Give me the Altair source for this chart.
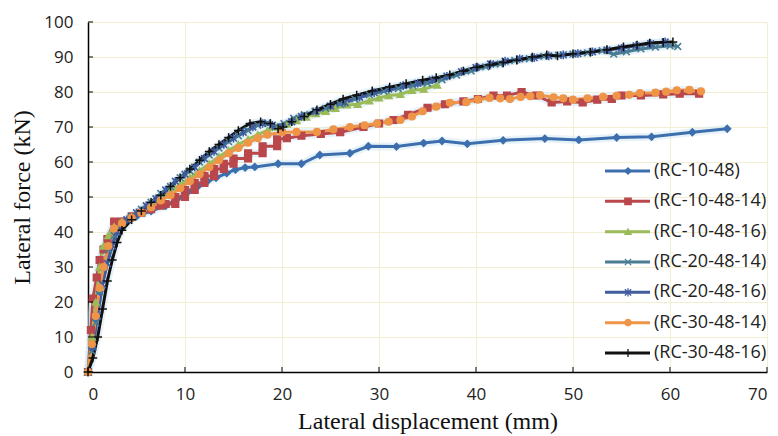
import altair as alt
import pandas as pd

series = ["(RC-10-48)", "(RC-10-48-14)", "(RC-10-48-16)", "(RC-20-48-14)",
          "(RC-20-48-16)", "(RC-30-48-14)", "(RC-30-48-16)"]
colors = ["#3d6fae", "#b9474b", "#9bbb59", "#4a7d93", "#3f5c9f", "#ef9548", "#111111"]
shapes = ["diamond", "square", "triangle-up",
          "M-1,-1L1,1M-1,1L1,-1",
          "M-1,-1L1,1M-1,1L1,-1M0,-1.3L0,1.3",
          "circle",
          "M-1.3,0L1.3,0M0,-1.3L0,1.3"]

x_ticks = [0, 10, 20, 30, 40, 50, 60, 70]
y_ticks = [0, 10, 20, 30, 40, 50, 60, 70, 80, 90, 100]

# (RC-10-48)
x1 = [0, 0.4, 0.8, 1.2, 1.6, 2.1, 2.7, 3.5, 5, 6.5, 8, 9.2, 10.3, 11.3, 12.3, 13.2, 14.3, 15.2,
      16.2, 17.2, 19.6, 22.0, 23.9, 27.0, 28.9, 31.8, 34.6, 36.5, 39.1, 42.8, 47.1, 50.6, 54.5,
      58.1, 62.3, 65.9]
y1 = [0, 7, 15, 23, 30, 36, 41, 43, 44.5, 46, 47.5, 49.5, 51.5, 53, 54.5, 55.5, 56.8, 57.8,
      58.4, 58.6, 59.5, 59.5, 62, 62.5, 64.5, 64.4, 65.4, 66, 65.2, 66.2, 66.7, 66.3, 67,
      67.2, 68.5, 69.5]
# (RC-10-48-14)
x2 = [0, 0.3, 0.5, 0.9, 1.2, 1.6, 2.0, 2.7, 3.5, 4.5, 5.5, 6.5, 7.5, 8, 9, 9, 10, 10, 11, 11, 12,
      12, 13, 13, 14, 14, 15, 15, 16.5, 16.5, 18, 18, 19.5, 19.5, 20.5, 22, 24, 26, 28.4, 30,
      31.5, 33, 35, 36.8, 38.7, 40.2, 41.8, 43.2, 44.7, 46.2, 47.8, 49.4, 51, 52.5, 54, 55, 57,
      59.3, 61, 63]
y2 = [0, 12, 21, 27, 32, 35, 38, 43, 43, 44.5, 45.5, 46.5, 47.5, 48, 48, 50, 50, 52, 52, 54, 54,
      56, 56, 58, 58, 59.5, 59.5, 61, 61, 62.5, 62.5, 64.5, 64.5, 66.5, 66.8, 67.5, 68, 68.5, 70,
      71, 72, 73.5, 75.5, 76.5, 77.3, 78, 79, 79, 80, 79, 77, 77.3, 77, 77.8, 78, 79, 79,
      79.3, 79.5, 79.5]
# (RC-10-48-16)
x3 = [0, 0.4, 0.8, 1.2, 1.6, 2.1, 2.7, 3.5, 4.5, 5.5, 6.5, 7.5, 8.5, 9.5, 10.5, 11.5, 12.5,
      13.5, 14.5, 15.5, 16.5, 17.5, 18.5, 19.5, 20.5, 21.5, 22.5, 23.5, 24.5, 25.5, 26.7, 27.8,
      29, 30, 31, 32.2, 33.4, 34.6, 36]
y3 = [0, 10, 20, 30, 36, 39, 41.5, 43, 44.3, 45.8, 47.5, 49.5, 51.5, 53.5, 55.5, 57.5, 59.5,
      61.5, 63.3, 65, 66.5, 67.8, 69, 70, 70.8, 71.8, 72.8, 73.8, 74.5, 75.3, 76.3, 76.5,
      77.5, 78.3, 79, 79.3, 80.5, 80.8, 82]
# (RC-20-48-14)
x4 = [0, 0.4, 0.8, 1.2, 1.6, 2.1, 2.7, 3.5, 4.5, 5.5, 6.5, 7.5, 8.5, 9.5, 10.5, 11.5, 12.5,
      13.5, 14.5, 15.5, 16.5, 17.5, 18.5, 19.3, 20.2, 21.2, 22.3, 23.4, 24.5, 26, 27.5, 29,
      30.5, 32, 33.5, 35, 36.5, 38, 39.5, 41, 42.5, 44, 45.5, 47, 48.5, 50, 51.5, 53, 54.2,
      55.5, 57, 58.5, 60, 60.8]
y4 = [0, 6, 14, 23, 30, 35, 39, 42.5, 44.5, 46.5, 48.5, 51, 53, 55.5, 57.5, 60, 62, 64, 65.8,
      67.5, 69, 70.5, 71.2, 70, 71, 72.5, 73.5, 74.5, 75.3, 76.5, 78, 79.2, 80.2, 81, 81.8,
      82.5, 83.5, 84.8, 86, 87.2, 88, 89, 89.5, 90.2, 90.5, 90.8, 91.2, 91.8, 90.8, 91.5,
      92.3, 92.8, 93.2, 93]
# (RC-20-48-16)
x5 = [0, 0.5, 1, 1.5, 2, 2.5, 3, 4, 5, 6, 7, 8, 9, 10, 11, 12, 13, 14, 15, 16, 17, 18, 19, 20,
      21, 22, 23.5, 25, 26.5, 28, 29.5, 31, 32.5, 34, 35.5, 37, 38.5, 40, 41.5, 43, 44.5, 46,
      47.5, 49, 50.5, 52, 53.5, 55, 56.5, 58, 59.5]
y5 = [0, 7, 16, 25, 31, 36, 40, 43.5, 45.5, 47.5, 49.5, 52, 54.5, 56.5, 58.5, 61, 63, 65, 66.8,
      68.5, 70, 71, 70.5, 70, 71.5, 73, 74.5, 76, 77, 78.5, 79.8, 80.8, 81.8, 82.5, 83.5, 84.5,
      85.8, 87, 88, 88.8, 89.5, 89.8, 90.3, 90.6, 91, 91.5, 92, 92.5, 93.2, 93.8, 94.3]
# (RC-30-48-14)
x6 = [0, 0.4, 0.8, 1.2, 1.6, 2.1, 2.7, 3.5, 4.5, 5.5, 6.5, 7.5, 8.5, 9.5, 10.5, 11.5, 12.5,
      13.5, 14.5, 15.5, 16.5, 17.5, 18.5, 20, 21.5, 23.6, 25.3, 27, 28.5, 29.8, 31, 32.2, 33.4,
      34.5, 35.9, 37.3, 39, 40.2, 41.4, 42.5, 43.5, 44.6, 45.6, 46.6, 48, 49, 50, 51.5, 53.1,
      54.5, 55.8, 56.9, 58.5, 59.6, 60.7, 62, 63.2]
y6 = [0, 8, 16, 24, 30, 36, 41, 42.5, 44, 45.5, 47, 49, 50.5, 52.5, 54.5, 56.5, 58.5, 60.5,
      62.5, 64, 65.5, 66.8, 67.8, 68.5, 68.6, 68.6, 69.3, 70, 70.5, 71, 71.5, 72, 73, 74.5,
      75.8, 76.9, 77.1, 77.8, 78.3, 78.2, 78, 78.6, 78.8, 79.1, 78.5, 78.2, 77.8, 78.2, 78.6,
      78.9, 79.2, 79.7, 79.8, 80.1, 80.5, 80.6, 80.2]
# (RC-30-48-16)
x7 = [0, 0.5, 1, 1.5, 2, 2.5, 3, 3.5, 4.5, 5.5, 6.5, 7.5, 8.5, 9.5, 10.5, 11.5, 12.5, 13.5,
      14.5, 15.5, 16.7, 17.8, 18.8, 19.6, 20.1, 21, 22.3, 23.6, 25, 26.3, 27.7, 29.3, 31.1,
      32.8, 34.5, 35.9, 37.3, 38.7, 40.1, 41.4, 42.8, 44.2, 45.8, 47.3, 48.4, 50, 51.8, 53.5,
      55.2, 56.6, 57.9, 59.3, 60.3]
y7 = [0, 4, 10, 18, 26, 32, 37, 40.5, 43.5, 46, 48.5, 50.5, 53, 55.5, 58, 60.5, 63, 65, 67,
      69, 71, 71.5, 71, 69.5, 70, 71.5, 73, 74.9, 76.5, 78, 79.1, 80.3, 81.4, 82.4, 83.4, 84.1,
      84.9, 86, 87.1, 87.7, 88.4, 89.1, 90, 90.6, 90.3, 90.9, 91.4, 92.1, 92.9, 93.4, 94,
      94.2, 94.3]

xs = [x1, x2, x3, x4, x5, x6, x7]
ys = [y1, y2, y3, y4, y5, y6, y7]

rows = []
for name, xv, yv in zip(series, xs, ys):
    for i, (a, b) in enumerate(zip(xv, yv)):
        rows.append({"series": name, "x": a, "y": b, "i": i})
df = pd.DataFrame(rows)

cscale = alt.Scale(domain=series, range=colors)
sscale = alt.Scale(domain=series, range=shapes)

x_axis = alt.Axis(values=x_ticks, title="Lateral displacement (mm)",
                  labelPadding=14, titlePadding=7, labelOverlap=False)
y_axis = alt.Axis(values=y_ticks, title="Lateral force (kN)",
                  labelPadding=15, titlePadding=9, labelOverlap=False)
X = alt.X("x:Q", scale=alt.Scale(domain=[0, 70]), axis=x_axis)
Y = alt.Y("y:Q", scale=alt.Scale(domain=[0, 100]), axis=y_axis)

base = alt.Chart(df)

halo = base.mark_line(strokeWidth=8, color="#d6eaf4", opacity=0.55).encode(
    x=X, y=Y, detail="series:N", order="i:Q")
lines = base.mark_line(strokeWidth=3).encode(
    x=X, y=Y, color=alt.Color("series:N", scale=cscale, legend=None), order="i:Q")
points = base.mark_point(filled=True, size=45, strokeWidth=1.5, opacity=1).encode(
    x=X, y=Y,
    fill=alt.Fill("series:N", scale=cscale, legend=None),
    stroke=alt.Stroke("series:N", scale=cscale, legend=None),
    shape=alt.Shape("series:N", scale=sscale, legend=None))

xt = alt.Chart(pd.DataFrame({"t": x_ticks})).mark_rule(color="black", strokeWidth=1).encode(
    x=alt.X("t:Q", scale=alt.Scale(domain=[0, 70]), axis=x_axis),
    y=alt.value(350), y2=alt.value(345))
yt = alt.Chart(pd.DataFrame({"t": y_ticks})).mark_rule(color="black", strokeWidth=1).encode(
    y=alt.Y("t:Q", scale=alt.Scale(domain=[0, 100]), axis=y_axis),
    x=alt.value(0), x2=alt.value(5))

plot = alt.layer(halo, lines, points, xt, yt)

ldf = pd.DataFrame({"series": series})
LY = alt.Y("series:N", axis=None,
           scale=alt.Scale(type="point", domain=series, range=[149, 331], padding=0))
lbase = alt.Chart(ldf)
lrule = lbase.mark_rule(strokeWidth=3).encode(
    x=alt.value(517), x2=alt.value(562), y=LY,
    color=alt.Color("series:N", scale=cscale, legend=None))
lpts = lbase.mark_point(filled=True, size=40, strokeWidth=1.3, opacity=1).encode(
    x=alt.value(540), y=LY,
    fill=alt.Fill("series:N", scale=cscale, legend=None),
    stroke=alt.Stroke("series:N", scale=cscale, legend=None),
    shape=alt.Shape("series:N", scale=sscale, legend=None))
ltext = lbase.mark_text(align="left", baseline="middle", font="Open Sans", fontSize=18,
                        color="#222222").encode(
    x=alt.value(566), y=LY, text="series:N")
legend = alt.layer(lrule, lpts, ltext)

chart = alt.layer(plot, legend).resolve_scale(y="independent").properties(
    width=679, height=350,
    padding={"left": 80, "top": 14, "right": 3, "bottom": 62},
    autosize=alt.AutoSizeParams(type="none"),
    background="white",
).configure_view(stroke=None).configure_axis(
    labelFont="Open Sans", labelFontSize=17, labelColor="#222222",
    titleFont="Liberation Serif", titleFontSize=24, titleFontWeight="normal",
    titleColor="#111111", domainColor="black", domainWidth=1.5,
    ticks=False, tickSize=0, gridColor="#f1eed3", gridWidth=1,
)

chart.save("out.html", embed_options={"renderer": "svg", "actions": False})
